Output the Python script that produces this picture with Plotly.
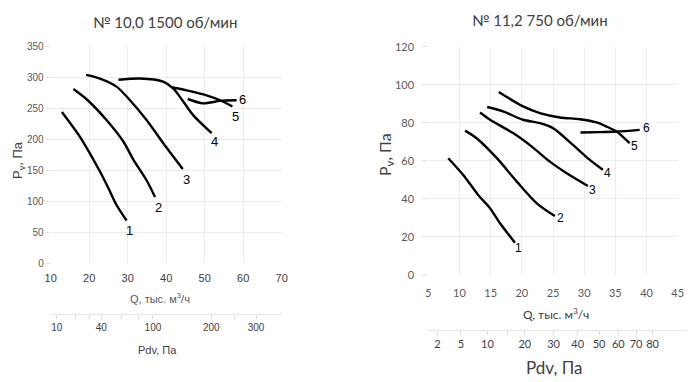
import numpy as np
import plotly.graph_objects as go

# ---------------- data: left chart (№ 10,0, 1500 rpm) ----------------
L1_q = [12.9, 17.6, 20.2, 22.8, 25.0, 27.1, 29.7]
L1_p = [244, 204, 177, 148, 121, 94, 69]
L2_q = [15.9, 19.6, 24.5, 28.9, 31.5, 34.9, 37.1]
L2_p = [281, 263, 231, 196, 167, 134, 107]
L3_q = [19.2, 22.8, 27.1, 30.6, 34.9, 39.2, 44.3]
L3_p = [304, 298, 285, 263, 231, 194, 152]
L4_q = [27.6, 33.2, 39.2, 41.8, 44.2, 47.0, 51.8]
L4_p = [296, 298, 293, 282, 263, 239, 210]
L5_q = [41.4, 45.3, 50.5, 54.0, 57.2]
L5_p = [284, 279, 271, 263, 253]
L6_q = [45.6, 49.6, 54.0, 58.3]
L6_p = [265, 258, 262, 263]
left_curves = [(L1_q, L1_p), (L2_q, L2_p), (L3_q, L3_p),
               (L4_q, L4_p), (L5_q, L5_p), (L6_q, L6_p)]

# ---------------- data: right chart (№ 11,2, 750 rpm) ----------------
R1_q = [8.2, 10.6, 13.0, 14.9, 16.5, 18.9]
R1_p = [61.4, 52.6, 42.1, 35.1, 27.2, 17.0]
R2_q = [10.9, 12.75, 16.0, 19.2, 22.4, 25.3]
R2_p = [75.9, 71.9, 61.4, 49.1, 37.7, 31.0]
R3_q = [13.3, 14.9, 18.6, 21.6, 24.5, 27.2, 30.6]
R3_p = [85.4, 81.6, 74.6, 67.5, 59.6, 53.5, 46.8]
R4_q = [14.45, 17.0, 20.2, 22.9, 25.0, 28.2, 30.9, 33.0]
R4_p = [88.3, 86.0, 81.6, 79.8, 77.2, 68.4, 60.5, 55.3]
R5_q = [16.3, 20.2, 22.9, 26.1, 29.3, 32.0, 33.6, 35.2, 36.25, 37.3]
R5_p = [96.2, 88.6, 85.1, 82.8, 81.9, 80.2, 78.0, 75.4, 72.5, 69.3]
R6_q = [29.4, 32.5, 35.2, 38.9]
R6_p = [74.9, 75.1, 75.4, 76.3]
right_curves = [(R1_q, R1_p), (R2_q, R2_p), (R3_q, R3_p),
                (R4_q, R4_p), (R5_q, R5_p), (R6_q, R6_p)]

curve_labels = ["1", "2", "3", "4", "5", "6"]

# secondary (dynamic pressure) scales:  Q = c * sqrt(Pdv)
left_c = 3.656
right_c = 4.58
left_pdv_ticks = [10, 20, 30, 40, 60, 80, 100, 200, 250, 300]
left_pdv_labels = ["10", "", "", "40", "", "", "100", "200", "", "300"]
right_pdv_ticks = [2, 5, 10, 15, 20, 30, 40, 50, 60, 70, 80]
right_pdv_labels = ["2", "5", "10", "", "20", "30", "40", "50", "60", "70", "80"]

left_title = "№ 10,0 1500 об/мин"
right_title = "№ 11,2 750 об/мин"

# ---------------- styling ----------------
W, H = 700, 382
OFF = 8  # page body margin
ARIAL = "Liberation Sans, Arial, sans-serif"
GOTHIC = "Lato, Noto Sans, sans-serif"
GRID = "#ececec"

def px_x(p):
    return (p - OFF) / W

def px_y(p):
    return 1 - (p - OFF) / H

left_offsets = [(3, 10), (3, 11), (4, 10), (3, 8), (3, 10), (6, -1)]
right_offsets = [(4, 5), (6, 2), (5, 4), (5, 3), (5, 3), (7, -2)]

fig = go.Figure()

for (q, p) in left_curves:
    fig.add_trace(go.Scatter(x=q, y=p, xaxis="x", yaxis="y", mode="lines",
                             line=dict(color="black", width=2.4, shape="spline", smoothing=0.8),
                             showlegend=False, hoverinfo="skip"))
for (q, p) in right_curves:
    fig.add_trace(go.Scatter(x=q, y=p, xaxis="x2", yaxis="y2", mode="lines",
                             line=dict(color="black", width=2.4, shape="spline", smoothing=0.8),
                             showlegend=False, hoverinfo="skip"))
# empty traces to materialise the secondary axes
fig.add_trace(go.Scatter(x=[None], y=[None], xaxis="x3", yaxis="y3", showlegend=False))
fig.add_trace(go.Scatter(x=[None], y=[None], xaxis="x4", yaxis="y4", showlegend=False))

annotations = []
for (q, p), lab, (dx, dy) in zip(left_curves, curve_labels, left_offsets):
    annotations.append(dict(x=q[-1], y=p[-1], xref="x", yref="y", text=lab, showarrow=False,
                            xanchor="center", yanchor="middle",
                            xshift=dx, yshift=-dy, font=dict(family=ARIAL, size=13, color="black")))
for (q, p), lab, (dx, dy) in zip(right_curves, curve_labels, right_offsets):
    annotations.append(dict(x=q[-1], y=p[-1], xref="x2", yref="y2", text=lab, showarrow=False,
                            xanchor="center", yanchor="middle",
                            xshift=dx, yshift=-dy, font=dict(family=ARIAL, size=12, color="black")))

def paper_text(x, y, text, font, angle=0):
    return dict(x=px_x(x), y=px_y(y), xref="paper", yref="paper", text=text, showarrow=False,
                xanchor="center", yanchor="middle", textangle=angle, font=font)

annotations += [
    paper_text(165, 22, left_title, dict(family=GOTHIC, size=15, color="#404040")),
    paper_text(540, 20, right_title, dict(family=GOTHIC, size=15, color="#404040")),
    paper_text(160, 298, "Q, тыс. м<sup>3</sup>/ч", dict(family=ARIAL, size=11, color="#595959")),
    paper_text(157, 350, "Pdv, Па", dict(family=ARIAL, size=11, color="#404040")),
    paper_text(18, 160, "P<sub>v</sub>, Па", dict(family=ARIAL, size=13, color="#404040"), -90),
    paper_text(556, 314, "Q, тыс. м<sup>3</sup>/ч", dict(family=GOTHIC, size=12, color="#404040")),
    paper_text(554, 367, "Pdv, Па", dict(family=GOTHIC, size=17, color="#404040")),
    paper_text(385, 155, "P<sub>v</sub>, Па", dict(family=GOTHIC, size=16, color="#404040"), -90),
]

common_grid = dict(showgrid=True, gridcolor=GRID, gridwidth=1, zeroline=False, showline=False,
                   automargin=False)

fig.update_layout(
    width=W, height=H, margin=dict(l=0, r=0, t=0, b=0, pad=0, autoexpand=False),
    paper_bgcolor="white", plot_bgcolor="white", showlegend=False,
    annotations=annotations,
    xaxis=dict(domain=[px_x(50.7), px_x(281.7)], anchor="y", range=[10, 70], dtick=10,
               tickfont=dict(family=ARIAL, size=11, color="#404040"), ticklabelstandoff=7,
               **common_grid),
    yaxis=dict(domain=[px_y(263.3), px_y(46.3)], anchor="x", range=[0, 350], dtick=50,
               tickfont=dict(family=ARIAL, size=10, color="#595959"),
               ticks="outside", ticklen=4, tickcolor="#dddddd", **common_grid),
    xaxis2=dict(domain=[px_x(428.3), px_x(677.7)], anchor="y2", range=[5, 45], dtick=5,
                tickfont=dict(family=GOTHIC, size=11, color="#595959"), ticklabelstandoff=10,
                **common_grid),
    yaxis2=dict(domain=[px_y(275), px_y(46.7)], anchor="x2", range=[0, 120], dtick=20,
                tickfont=dict(family=GOTHIC, size=11, color="#595959"),
                ticks="outside", ticklen=5, tickcolor="#dddddd", ticklabelstandoff=6, **common_grid),
    xaxis3=dict(domain=[px_x(50.7), px_x(281.7)], anchor="y3", range=[10, 70],
                tickvals=[left_c * np.sqrt(v) for v in left_pdv_ticks], ticktext=left_pdv_labels,
                ticks="outside", ticklen=4, tickcolor="#d9d9d9", showline=True, linecolor="#e6e6e6",
                showgrid=False, zeroline=False, automargin=False,
                tickfont=dict(family=ARIAL, size=10, color="#404040")),
    yaxis3=dict(domain=[px_y(314), px_y(312)], anchor="x3", visible=False, range=[0, 1],
                automargin=False),
    xaxis4=dict(domain=[px_x(428.3), px_x(686)], anchor="y4", range=[5, 5 + (686 - 428.3) / 6.235],
                tickvals=[right_c * np.sqrt(v) for v in right_pdv_ticks], ticktext=right_pdv_labels,
                ticks="outside", ticklen=4, tickcolor="#d9d9d9", showline=True, linecolor="#e6e6e6",
                showgrid=False, zeroline=False, automargin=False,
                tickfont=dict(family=GOTHIC, size=11, color="#404040")),
    yaxis4=dict(domain=[px_y(330), px_y(328)], anchor="x4", visible=False, range=[0, 1],
                automargin=False),
)

fig.write_html("out.html")
